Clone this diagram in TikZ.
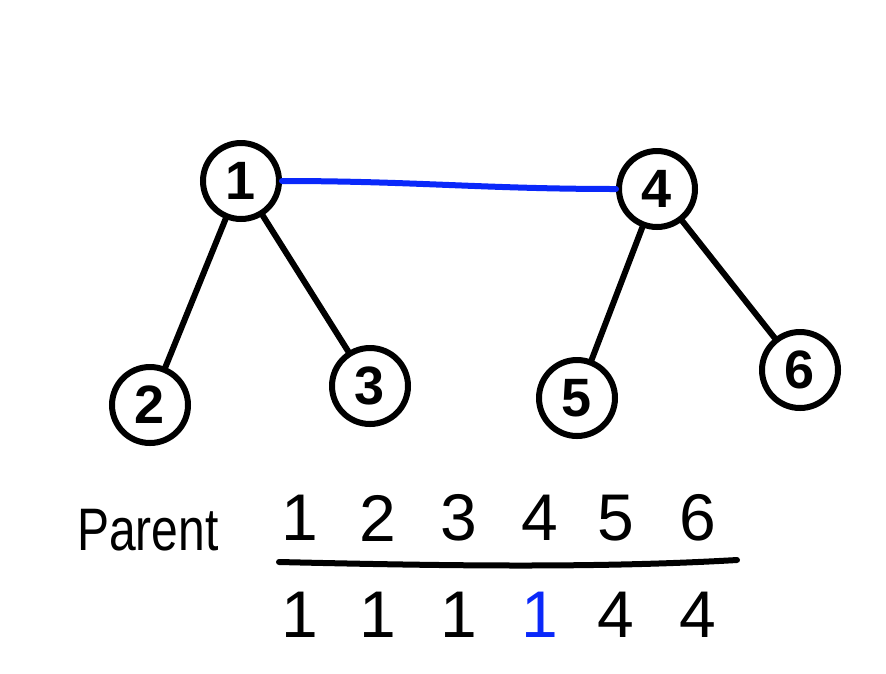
\documentclass[tikz,border=0pt]{standalone}
\usepackage{fontspec}
\setmainfont{Liberation Sans}
\definecolor{penblue}{RGB}{10,40,250}
\begin{document}
\begin{tikzpicture}[x=1pt,y=-1pt,
  vert/.style={circle,draw=black,line width=6pt,minimum size=76pt,inner sep=0pt,font=\bfseries\fontsize{54}{56}\selectfont},
  edge/.style={line width=6pt,line cap=round,draw=black},
  bluedge/.style={line width=6pt,line cap=round,draw=penblue},
  cell/.style={inner sep=0pt,font=\fontsize{66}{68}\selectfont},
  lbl/.style={inner sep=0pt,font=\fontsize{48}{50}\selectfont}]
\useasboundingbox[fill=white] (0,0) rectangle (886,673);
\node[vert] (n1) at (241,181) {1};
\node[vert] (n4) at (657,189) {4};
\node[vert] (n2) at (150,405) {2};
\node[vert] (n3) at (370,386) {3};
\node[vert] (n5) at (577,398) {5};
\node[vert] (n6) at (800,370) {6};
\draw[edge] (n1) -- (n2);
\draw[edge] (n1) -- (n3);
\draw[edge] (n4) -- (n5);
\draw[edge] (n4) -- (n6);
\draw[bluedge] (n1.east) to[out=0,in=180] (n4.west);
\node[lbl,yscale=1.25] (par) at (148,530) {Parent};
\node[cell] (t1) at (300,518) {1};
\node[cell] (t2) at (378,518) {2};
\node[cell] (t3) at (459,518) {3};
\node[cell] (t4) at (540,518) {4};
\node[cell] (t5) at (616,518) {5};
\node[cell] (t6) at (698,518) {6};
\node[cell] (b1) at (300,615) {1};
\node[cell] (b2) at (378,615) {1};
\node[cell] (b3) at (459,615) {1};
\node[cell,text=penblue] (b4) at (540,615) {1};
\node[cell] (b5) at (616,615) {4};
\node[cell] (b6) at (698,615) {4};
\coordinate (la) at (279,562);
\coordinate (lb) at (737,560);
\draw[edge] (la) .. controls (450,566) and (600,568) .. (lb);
\end{tikzpicture}
\end{document}
